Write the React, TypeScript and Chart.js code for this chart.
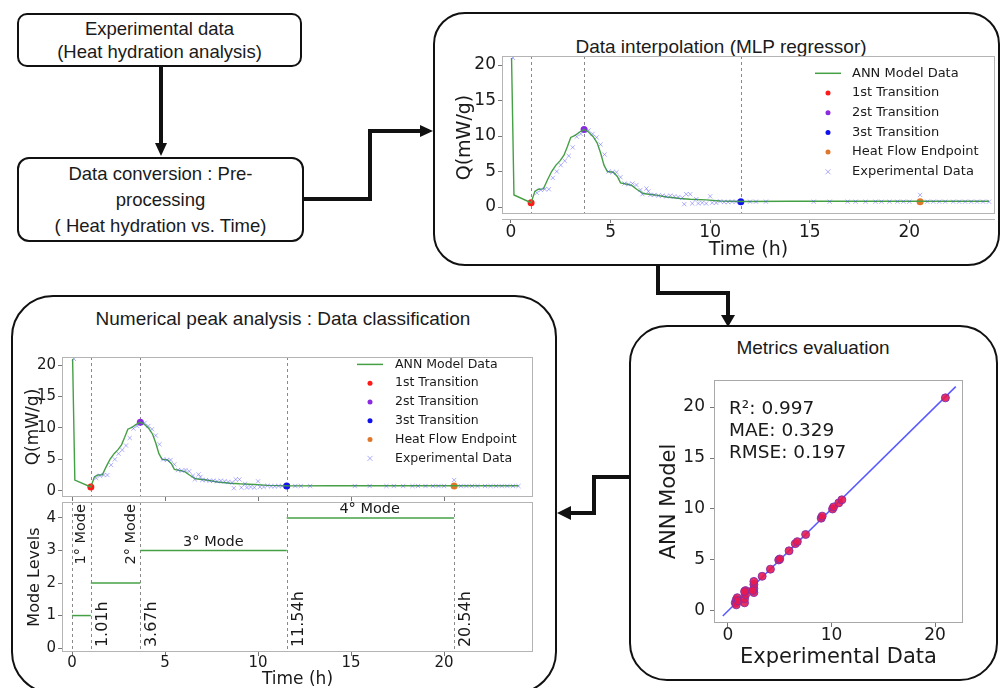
import React, { useEffect, useRef } from "react";
import { Chart, registerables } from "chart.js";

Chart.register(...registerables);

// ---------------- data ----------------
const ANN_TIME = [0.03, 0.15, 1.01, 1.2, 1.37, 1.63, 1.83, 2.04, 2.26, 2.46, 2.66, 2.83, 3.0, 3.22, 3.47, 3.67, 3.88, 4.13, 4.33, 4.5, 4.67, 4.84, 5.14, 5.34, 5.5, 5.84, 6.06, 6.31, 6.64, 7.23, 7.82, 8.49, 9.0, 9.8, 10.5, 11.54, 14.0, 18.0, 24.0];
const ANN_Q = [21.0, 1.7, 0.6, 2.2, 2.5, 2.55, 3.8, 5.0, 5.9, 6.5, 7.3, 8.5, 9.8, 10.1, 10.6, 10.9, 10.6, 9.9, 9.0, 7.6, 5.9, 5.0, 4.9, 4.3, 3.4, 3.2, 3.05, 2.5, 1.9, 1.7, 1.4, 1.2, 1.1, 1.0, 0.85, 0.78, 0.8, 0.8, 0.8];

const EXP_TIME = [0.1, 1.3, 1.5, 1.7, 1.9, 2.1, 2.3, 2.5, 2.7, 2.9, 3.1, 3.3, 3.5, 3.9, 4.1, 4.3, 4.5, 4.7, 4.9, 5.1, 5.3, 5.5, 5.7, 5.9, 6.1, 6.3, 6.5, 6.6, 6.8, 6.9, 7.0, 7.2, 7.4, 7.6, 7.8, 8.0, 8.2, 8.4, 8.6, 8.7, 8.8, 9.0, 9.1, 9.3, 9.4, 9.6, 9.8, 10.0, 10.1, 10.3, 10.5, 10.7, 10.9, 11.1, 11.3, 12.0, 12.3, 12.8, 15.2, 16.0, 16.9, 17.3, 17.8, 18.3, 18.6, 19.0, 19.4, 19.7, 20.0, 20.54, 20.9, 21.2, 21.5, 21.8, 22.2, 22.5, 22.8, 23.1, 23.4, 23.7, 24.0];
const EXP_Q = [21.0, 2.0, 2.4, 2.5, 2.5, 4.1, 5.0, 5.9, 6.5, 7.2, 8.4, 9.9, 10.3, 10.8, 10.3, 9.8, 8.8, 7.4, 5.0, 4.9, 4.9, 4.2, 3.3, 3.2, 3.3, 3.1, 2.4, 1.8, 2.6, 2.2, 1.7, 1.7, 1.6, 1.6, 1.5, 1.6, 1.5, 1.4, 1.3, 0.4, 1.8, 1.8, 0.5, 1.1, 0.5, 0.6, 0.5, 1.5, 0.6, 0.6, 0.8, 0.7, 0.7, 0.75, 0.75, 0.75, 0.75, 0.75, 0.75, 0.75, 0.75, 0.75, 0.75, 0.75, 0.75, 0.75, 0.75, 0.75, 0.75, 1.7, 0.75, 0.75, 0.75, 0.75, 0.75, 0.75, 0.75, 0.75, 0.75, 0.75, 0.75];

const TRANSITION_TIME = [1.01, 3.67, 11.54];
const TRANSITION_Q = [0.6, 10.9, 0.75];
const TRANSITION_LABELS = ["1st Transition", "2st Transition", "3st Transition"];
const ENDPOINT_TIME = [20.54];
const ENDPOINT_Q = [0.75];

const MODE_BOUNDS = [0, 1.01, 3.67, 11.54, 20.54];
const MODE_LEVELS = [1, 2, 3, 4];
const MODE_NAMES = ["1° Mode", "2° Mode", "3° Mode", "4° Mode"];
const MODE_NAME_AT = [0.5, 3.2, 7.6, 16.0];
const TIME_LABELS = ["1.01h", "3.67h", "11.54h", "20.54h"];

const METRIC_EXP = [0.7, 0.8, 0.9, 0.8, 1.0, 1.6, 1.6, 1.7, 1.7, 1.6, 2.5, 2.5, 2.5, 2.5, 2.4, 3.3, 4.1, 4.9, 5.0, 5.9, 6.5, 6.7, 7.5, 9.0, 9.1, 10.1, 10.2, 10.7, 11.0, 21.0];
const METRIC_ANN = [0.8, 1.1, 1.3, 0.6, 1.0, 0.8, 1.2, 1.6, 2.0, 1.9, 1.8, 2.2, 2.6, 2.9, 2.0, 3.4, 4.1, 5.0, 5.1, 5.9, 6.6, 6.8, 7.5, 9.1, 9.3, 10.0, 10.2, 10.6, 10.9, 20.9];
const IDENTITY_RANGE = [-0.5, 22];
const METRIC_TEXT = ["R²: 0.997", "MAE: 0.329", "RMSE: 0.197"];

const Q_TICKS = [0, 5, 10, 15, 20];
const TIME_TICKS = [0, 5, 10, 15, 20];
const MODE_TICKS = [0, 1, 2, 3, 4];
const METRIC_X_TICKS = [0, 10, 20];
const METRIC_Y_TICKS = [0, 5, 10, 15, 20];

// ---------------- styles ----------------
const FONT = "'DejaVu Sans', sans-serif";
const SANS = "'Liberation Sans', Arial, sans-serif";
const GREEN = "#45a045";
const TXT = "#1a1a1a";
const FRAME = "#b4b4b4";
const TICKMARK = "#777";
const EXP_COLOR = "rgba(80,80,255,0.45)";

type Geo = { cl: number; ct: number; cr: number; cb: number; fl: number; ft: number; fr: number; fb: number };

const framePlugin = {
  id: "frame",
  afterDatasetsDraw(chart: any, _a: any, opts: any) {
    const { ctx, chartArea: a } = chart;
    ctx.save();
    ctx.strokeStyle = opts.color || FRAME;
    ctx.lineWidth = 1;
    const inset = opts.bottomInset || 0;
    ctx.strokeRect(a.left + 0.5, a.top + 0.5, a.right - a.left - 1, a.bottom - inset - a.top - 1);
    if (opts.axisLine) {
      ctx.beginPath();
      ctx.moveTo(a.left, a.bottom + 0.5);
      ctx.lineTo(a.right, a.bottom + 0.5);
      ctx.stroke();
    }
    ctx.restore();
  },
};

const vlinePlugin = {
  id: "vlines",
  beforeDatasetsDraw(chart: any, _a: any, opts: any) {
    const xs: number[] = opts.xs || [];
    const { ctx, chartArea: a, scales } = chart;
    ctx.save();
    ctx.strokeStyle = opts.color || "#8a8a8a";
    ctx.lineWidth = 1;
    ctx.setLineDash([3, 3]);
    xs.forEach((v) => {
      const px = Math.round(scales.x.getPixelForValue(v)) + 0.5;
      ctx.beginPath();
      ctx.moveTo(px, a.top);
      ctx.lineTo(px, a.bottom - (opts.bottomInset || 0));
      ctx.stroke();
    });
    ctx.restore();
  },
};

const legendPlugin = {
  id: "inLegend",
  afterDraw(chart: any, _a: any, opts: any) {
    if (!opts.items) return;
    const { ctx, chartArea: a } = chart;
    ctx.save();
    ctx.font = opts.font;
    ctx.textBaseline = "middle";
    ctx.textAlign = "left";
    opts.items.forEach((it: any, i: number) => {
      const y = a.top + opts.top + i * opts.rowH;
      const mx = a.right - opts.markerRight;
      if (it.kind === "line") {
        ctx.strokeStyle = it.color;
        ctx.lineWidth = 1.5;
        ctx.beginPath();
        ctx.moveTo(mx - 13, y);
        ctx.lineTo(mx + 13, y);
        ctx.stroke();
      } else if (it.kind === "dot") {
        ctx.fillStyle = it.color;
        ctx.beginPath();
        ctx.arc(mx, y, 2.5, 0, Math.PI * 2);
        ctx.fill();
      } else {
        ctx.strokeStyle = it.color;
        ctx.lineWidth = 1;
        ctx.beginPath();
        ctx.moveTo(mx - 2.5, y - 2.5);
        ctx.lineTo(mx + 2.5, y + 2.5);
        ctx.moveTo(mx - 2.5, y + 2.5);
        ctx.lineTo(mx + 2.5, y - 2.5);
        ctx.stroke();
      }
      ctx.fillStyle = TXT;
      ctx.fillText(it.label, a.right - opts.textRight, y);
    });
    ctx.restore();
  },
};

const modeTextPlugin = {
  id: "modeText",
  afterDatasetsDraw(chart: any, _a: any, opts: any) {
    if (!opts.on) return;
    const { ctx, chartArea: a, scales } = chart;
    const x = scales.x;
    const y = scales.y;
    ctx.save();
    ctx.fillStyle = TXT;
    ctx.font = `14.5px ${FONT}`;
    [0, 1].forEach((i) => {
      ctx.save();
      ctx.translate(x.getPixelForValue(MODE_NAME_AT[i]), a.top + 2);
      ctx.rotate(-Math.PI / 2);
      ctx.textAlign = "right";
      ctx.textBaseline = "middle";
      ctx.fillText(MODE_NAMES[i], 0, 0);
      ctx.restore();
    });
    [2, 3].forEach((i) => {
      ctx.textAlign = "center";
      ctx.textBaseline = "bottom";
      ctx.fillText(MODE_NAMES[i], x.getPixelForValue(MODE_NAME_AT[i]), y.getPixelForValue(MODE_LEVELS[i]) - 1);
    });
    ctx.font = `16px ${FONT}`;
    TIME_LABELS.forEach((t, i) => {
      ctx.save();
      ctx.translate(x.getPixelForValue(MODE_BOUNDS[i + 1]) + 4, y.getPixelForValue(0) - 1);
      ctx.rotate(-Math.PI / 2);
      ctx.textAlign = "left";
      ctx.textBaseline = "top";
      ctx.fillText(t, 0, 0);
      ctx.restore();
    });
    ctx.restore();
  },
};

const noteTextPlugin = {
  id: "noteText",
  afterDraw(chart: any, _a: any, opts: any) {
    if (!opts.lines) return;
    const { ctx, chartArea: a } = chart;
    ctx.save();
    ctx.fillStyle = TXT;
    ctx.font = opts.font;
    ctx.textAlign = "left";
    ctx.textBaseline = "middle";
    opts.lines.forEach((t: string, i: number) => ctx.fillText(t, a.left + opts.dx, a.top + opts.dy + i * opts.rowH));
    ctx.restore();
  },
};

function axis(
  geo: Geo,
  dir: "x" | "y",
  min: number,
  max: number,
  ticks: number[],
  o: { labels: boolean; size?: number; pad?: number; title?: string; titleSize?: number; titlePad?: number }
) {
  return {
    type: "linear",
    position: dir === "x" ? "bottom" : "left",
    min,
    max,
    afterBuildTicks: (s: any) => {
      s.ticks = ticks.map((v) => ({ value: v }));
    },
    afterFit: (s: any) => {
      if (dir === "x") s.height = geo.cb - geo.fb;
      else s.width = geo.fl - geo.cl;
    },
    grid: { display: true, drawOnChartArea: false, drawTicks: true, tickLength: 4, color: TICKMARK, lineWidth: 1 },
    border: { display: false },
    ticks: {
      display: o.labels,
      padding: o.pad ?? 1,
      color: TXT,
      font: { family: FONT, size: o.size ?? 15, lineHeight: 1 },
      callback: (v: any) => String(v),
      maxRotation: 0,
      autoSkip: false,
    },
    title: o.title
      ? {
          display: true,
          text: o.title,
          color: TXT,
          font: { family: FONT, size: o.titleSize ?? 17, lineHeight: 1 },
          padding: dir === "x" ? { top: 0, bottom: o.titlePad ?? 0 } : { top: o.titlePad ?? 0, bottom: 0 },
        }
      : { display: false },
  };
}

function baseOptions(geo: Geo, scales: any, plugins: any) {
  return {
    responsive: false,
    maintainAspectRatio: false,
    animation: false,
    devicePixelRatio: 1,
    layout: { padding: { top: geo.ft - geo.ct, right: geo.cr - geo.fr, left: 0, bottom: 0 } },
    scales,
    plugins: { legend: { display: false }, tooltip: { enabled: false }, ...plugins },
  };
}

function heatDatasets() {
  return [
    {
      label: "Experimental Data",
      data: EXP_TIME.map((x, i) => ({ x, y: EXP_Q[i] })),
      pointStyle: "crossRot",
      pointRadius: 3,
      borderColor: EXP_COLOR,
      backgroundColor: EXP_COLOR,
      borderWidth: 1,
      showLine: false,
    },
    {
      label: "ANN Model Data",
      data: ANN_TIME.map((x, i) => ({ x, y: ANN_Q[i] })),
      showLine: true,
      borderColor: GREEN,
      borderWidth: 1.4,
      pointRadius: 0,
      tension: 0,
    },
    ...TRANSITION_TIME.map((x, i) => ({
      label: TRANSITION_LABELS[i],
      data: [{ x, y: TRANSITION_Q[i] }],
      pointRadius: 3.5,
      backgroundColor: ["#ff1a1a", "#8a2be2", "#1010ee"][i],
      borderColor: ["#ff1a1a", "#8a2be2", "#1010ee"][i],
      borderWidth: 0,
    })),
    {
      label: "Heat Flow Endpoint",
      data: ENDPOINT_TIME.map((x, i) => ({ x, y: ENDPOINT_Q[i] })),
      pointRadius: 3.5,
      backgroundColor: "#e0762a",
      borderColor: "#e0762a",
      borderWidth: 0,
    },
  ];
}

function legendItems() {
  return [
    { label: "ANN Model Data", kind: "line", color: GREEN },
    { label: TRANSITION_LABELS[0], kind: "dot", color: "#ff1a1a" },
    { label: TRANSITION_LABELS[1], kind: "dot", color: "#8a2be2" },
    { label: TRANSITION_LABELS[2], kind: "dot", color: "#1010ee" },
    { label: "Heat Flow Endpoint", kind: "dot", color: "#e0762a" },
    { label: "Experimental Data", kind: "cross", color: "rgba(90,90,255,0.5)" },
  ];
}

// ---------- chart builders ----------
const GEO_A: Geo = { cl: 440, ct: 36, cr: 1000, cb: 262, fl: 502, ft: 56, fr: 995, fb: 219 };
function buildA(geo: Geo) {
  return {
    type: "scatter",
    data: { datasets: heatDatasets() },
    options: baseOptions(
      geo,
      {
        x: axis(geo, "x", -0.45, 24.3, TIME_TICKS, { labels: true, size: 17, pad: 1, title: "Time (h)", titleSize: 19, titlePad: 2 }),
        y: axis(geo, "y", -1.69, 21.27, Q_TICKS, { labels: true, size: 17, pad: 2, title: "Q(mW/g)", titleSize: 19, titlePad: 16 }),
      },
      {
        frame: { bottomInset: 5, axisLine: true },
        vlines: { xs: TRANSITION_TIME, bottomInset: 5 },
        inLegend: { items: legendItems(), font: `13px ${FONT}`, top: 17.3, rowH: 19.7, markerRight: 167, textRight: 143 },
        modeText: { on: false },
        noteText: {},
      }
    ),
    plugins: [framePlugin, vlinePlugin, legendPlugin, modeTextPlugin, noteTextPlugin],
  };
}

const GEO_B: Geo = { cl: 14, ct: 337, cr: 545, cb: 511, fl: 62, ft: 357, fr: 533, fb: 497 };
function buildB(geo: Geo) {
  return {
    type: "scatter",
    data: { datasets: heatDatasets() },
    options: baseOptions(
      geo,
      {
        x: axis(geo, "x", -0.54, 24.78, TIME_TICKS, { labels: false }),
        y: axis(geo, "y", -1.0, 21.3, Q_TICKS, { labels: true, size: 15, pad: 2, title: "Q(mW/g)", titleSize: 17, titlePad: 11.5 }),
      },
      {
        frame: {},
        vlines: { xs: TRANSITION_TIME },
        inLegend: { items: legendItems(), font: `12.5px ${FONT}`, top: 7.4, rowH: 18.8, markerRight: 163, textRight: 138 },
        modeText: { on: false },
        noteText: {},
      }
    ),
    plugins: [framePlugin, vlinePlugin, legendPlugin, modeTextPlugin, noteTextPlugin],
  };
}

const GEO_C: Geo = { cl: 14, ct: 482, cr: 545, cb: 688, fl: 62, ft: 502, fr: 533, fb: 652 };
function buildC(geo: Geo) {
  const datasets = MODE_LEVELS.map((lv, i) => ({
    label: MODE_NAMES[i],
    data: [
      { x: MODE_BOUNDS[i], y: lv },
      { x: MODE_BOUNDS[i + 1], y: lv },
    ],
    showLine: true,
    borderColor: GREEN,
    borderWidth: 1.5,
    pointRadius: 0,
  }));
  return {
    type: "scatter",
    data: { datasets },
    options: baseOptions(
      geo,
      {
        x: axis(geo, "x", -0.54, 24.78, TIME_TICKS, { labels: true, size: 15, pad: 0, title: "Time (h)", titleSize: 17, titlePad: 0 }),
        y: axis(geo, "y", -0.12, 4.49, MODE_TICKS, { labels: true, size: 15, pad: 2, title: "Mode Levels", titleSize: 16, titlePad: 13 }),
      },
      {
        frame: {},
        vlines: { xs: MODE_BOUNDS },
        inLegend: {},
        modeText: { on: true },
        noteText: {},
      }
    ),
    plugins: [framePlugin, vlinePlugin, legendPlugin, modeTextPlugin, noteTextPlugin],
  };
}

const GEO_D: Geo = { cl: 640, ct: 360, cr: 985, cb: 672, fl: 714, ft: 380, fr: 963, fb: 623 };
function buildD(geo: Geo) {
  return {
    type: "scatter",
    data: {
      datasets: [
        {
          label: "points",
          data: METRIC_EXP.map((x, i) => ({ x, y: METRIC_ANN[i] })),
          pointRadius: 4,
          backgroundColor: "rgba(232,24,80,0.9)",
          borderColor: "rgba(128,48,170,0.9)",
          borderWidth: 1,
        },
        {
          label: "identity",
          data: IDENTITY_RANGE.map((v) => ({ x: v, y: v })),
          showLine: true,
          borderColor: "rgba(60,60,255,0.85)",
          borderWidth: 1.5,
          pointRadius: 0,
        },
      ],
    },
    options: baseOptions(
      geo,
      {
        x: axis(geo, "x", -1.35, 22.7, METRIC_X_TICKS, { labels: true, size: 17, pad: 0, title: "Experimental Data", titleSize: 21, titlePad: 3.5 }),
        y: axis(geo, "y", -1.18, 22.65, METRIC_Y_TICKS, { labels: true, size: 17, pad: 5, title: "ANN Model", titleSize: 21, titlePad: 19.5 }),
      },
      {
        frame: { color: "#a8a8a8" },
        vlines: { xs: [] },
        inLegend: {},
        modeText: { on: false },
        noteText: { lines: METRIC_TEXT, font: `18.5px ${FONT}`, dx: 15, dy: 29, rowH: 22 },
      }
    ),
    plugins: [framePlugin, vlinePlugin, legendPlugin, modeTextPlugin, noteTextPlugin],
  };
}

function ChartCanvas({ geo, build }: { geo: Geo; build: (g: Geo) => any }) {
  const ref = useRef<HTMLCanvasElement>(null);
  useEffect(() => {
    const chart = new Chart(ref.current as HTMLCanvasElement, build(geo));
    return () => chart.destroy();
  }, []);
  const w = geo.cr - geo.cl;
  const h = geo.cb - geo.ct;
  return (
    <canvas
      ref={ref}
      width={w}
      height={h}
      style={{ position: "absolute", left: geo.cl, top: geo.ct, width: w, height: h }}
    />
  );
}

function Box({ l, t, r, b, radius, children, lh }: { l: number; t: number; r: number; b: number; radius: number; children?: any; lh?: number }) {
  return (
    <div
      style={{
        position: "absolute",
        left: l,
        top: t,
        width: r - l,
        height: b - t,
        boxSizing: "border-box",
        border: "2px solid #111",
        borderRadius: radius,
        display: "flex",
        alignItems: "center",
        justifyContent: "center",
        textAlign: "center",
        fontFamily: SANS,
        fontSize: 18.5,
        lineHeight: `${lh ?? 23}px`,
        color: TXT,
      }}
    >
      <div>{children}</div>
    </div>
  );
}

function Title({ cx, cy, text }: { cx: number; cy: number; text: string }) {
  return (
    <div
      style={{
        position: "absolute",
        left: cx - 300,
        top: cy - 11,
        width: 600,
        height: 22,
        lineHeight: "22px",
        textAlign: "center",
        fontFamily: SANS,
        fontSize: 19,
        color: TXT,
        whiteSpace: "nowrap",
      }}
    >
      {text}
    </div>
  );
}

export default function App() {
  return (
    <div style={{ position: "absolute", left: 0, top: 0, width: 1002, height: 688, overflow: "hidden", background: "#fff" }}>
      <Box l={17} t={13} r={302} b={67} radius={10}>
        Experimental data
        <br />
        (Heat hydration analysis)
      </Box>
      <Box l={17} t={157} r={304} b={242} radius={12} lh={26}>
        Data conversion : Pre-
        <br />
        processing
        <br />( Heat hydration vs. Time)
      </Box>
      <Box l={433} t={12} r={1000} b={266} radius={32} />
      <Box l={629} t={325} r={998} b={681} radius={38} />
      <Box l={11} t={295} r={557} b={694} radius={42} />

      <Title cx={721} cy={47} text="Data interpolation (MLP regressor)" />
      <Title cx={283} cy={319} text="Numerical peak analysis : Data classification" />
      <Title cx={813} cy={348} text="Metrics evaluation" />

      <svg width={1002} height={688} style={{ position: "absolute", left: 0, top: 0 }}>
        <g stroke="#111" strokeWidth={4} fill="none" strokeLinejoin="miter">
          <polyline points="161,67 161,144" />
          <polyline points="304,199 370,199 370,131 422,131" />
          <polyline points="658,266 658,293 728,293 728,317" />
          <polyline points="629,477 594,477 594,513 569,513" />
        </g>
        <g fill="#111">
          <polygon points="155,143 167,143 161,156" />
          <polygon points="420,125 420,137 433,131" />
          <polygon points="721,315 735,315 728,327" />
          <polygon points="571,506 571,520 557,513" />
        </g>
      </svg>

      <ChartCanvas geo={GEO_A} build={buildA} />
      <ChartCanvas geo={GEO_B} build={buildB} />
      <ChartCanvas geo={GEO_C} build={buildC} />
      <ChartCanvas geo={GEO_D} build={buildD} />
    </div>
  );
}
